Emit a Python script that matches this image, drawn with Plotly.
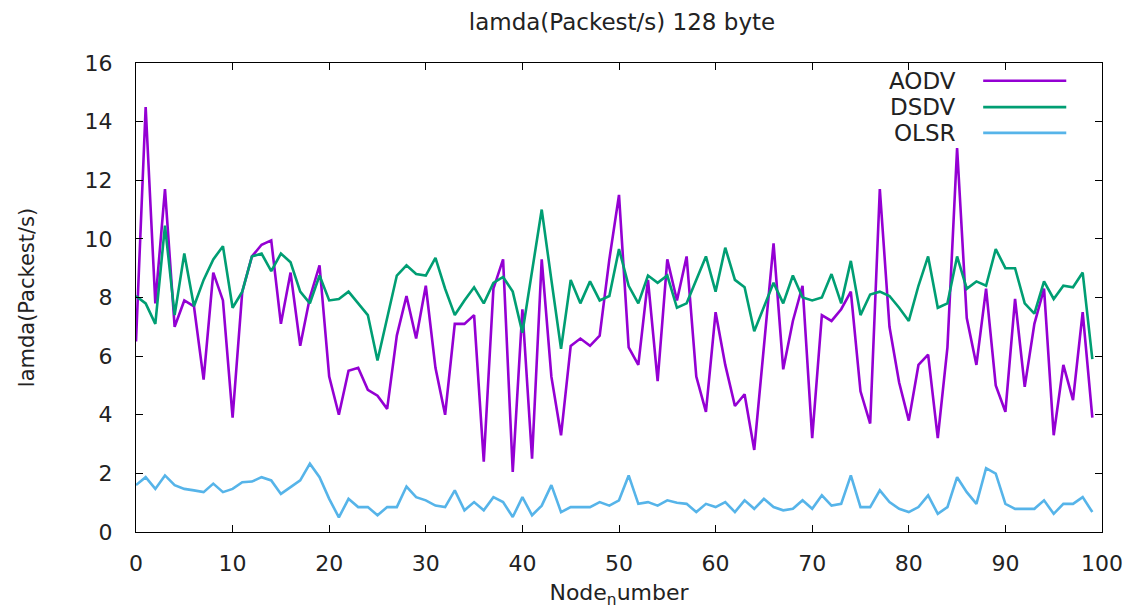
import plotly.graph_objects as go

nodes = list(range(100))

aodv = [6.5, 14.5, 7.8, 11.7, 7.0, 7.9, 7.7, 5.2, 8.85, 7.9,
        3.9, 8.2, 9.4, 9.8, 9.95, 7.1, 8.85, 6.35, 8.0, 9.1,
        5.3, 4.0, 5.5, 5.6, 4.85, 4.65, 4.2, 6.7, 8.05, 6.6,
        8.4, 5.6, 4.0, 7.1, 7.1, 7.4, 2.4, 8.3, 9.3, 2.05,
        7.6, 2.5, 9.3, 5.3, 3.3, 6.35, 6.6, 6.35, 6.7, 9.3,
        11.5, 6.3, 5.7, 8.6, 5.15, 9.3, 7.9, 9.4, 5.3, 4.1,
        7.5, 5.7, 4.3, 4.7, 2.8, 6.3, 9.85, 5.55, 7.2, 8.4,
        3.2, 7.4, 7.2, 7.6, 8.2, 4.8, 3.7, 11.7, 7.0, 5.1,
        3.8, 5.7, 6.05, 3.2, 6.3, 13.1, 7.3, 5.7, 8.3, 5.0,
        4.1, 7.95, 4.95, 7.1, 8.3, 3.3, 5.7, 4.5, 7.5, 3.9]

dsdv = [8.05, 7.8, 7.1, 10.45, 7.4, 9.5, 7.7, 8.6, 9.3, 9.75,
        7.65, 8.2, 9.4, 9.5, 8.9, 9.5, 9.2, 8.2, 7.8, 8.75,
        7.9, 7.95, 8.2, 7.8, 7.4, 5.85, 7.25, 8.75, 9.1, 8.8,
        8.75, 9.35, 8.3, 7.4, 7.9, 8.35, 7.8, 8.5, 8.7, 8.2,
        6.8, 8.9, 11.0, 8.6, 6.25, 8.6, 7.8, 8.55, 7.9, 8.05,
        9.65, 8.4, 7.8, 8.75, 8.5, 8.75, 7.65, 7.8, 8.6, 9.4,
        8.2, 9.7, 8.6, 8.35, 6.85, 7.65, 8.5, 7.8, 8.75, 8.0,
        7.9, 8.0, 8.8, 7.8, 9.25, 7.4, 8.1, 8.2, 8.05, 7.65,
        7.2, 8.4, 9.4, 7.65, 7.8, 9.4, 8.3, 8.55, 8.4, 9.65,
        9.0, 9.0, 7.8, 7.45, 8.55, 7.95, 8.4, 8.35, 8.85, 5.9]

olsr = [1.6, 1.87, 1.47, 1.93, 1.6, 1.47, 1.42, 1.36, 1.65, 1.36,
        1.47, 1.7, 1.72, 1.87, 1.76, 1.3, 1.53, 1.76, 2.33, 1.87,
        1.13, 0.5, 1.13, 0.85, 0.85, 0.57, 0.85, 0.85, 1.55, 1.19,
        1.08, 0.9, 0.85, 1.42, 0.74, 1.02, 0.74, 1.19, 1.02, 0.51,
        1.19, 0.57, 0.9, 1.6, 0.68, 0.85, 0.85, 0.85, 1.02, 0.9,
        1.08, 1.93, 0.96, 1.02, 0.9, 1.08, 1.0, 0.96, 0.68, 0.96,
        0.85, 1.02, 0.68, 1.08, 0.79, 1.13, 0.85, 0.74, 0.79, 1.08,
        0.79, 1.25, 0.9, 0.96, 1.93, 0.85, 0.85, 1.42, 1.02, 0.79,
        0.68, 0.85, 1.25, 0.62, 0.85, 1.87, 1.36, 0.96, 2.18, 1.99,
        0.96, 0.79, 0.79, 0.79, 1.08, 0.62, 0.96, 0.96, 1.19, 0.68]

series_names = ["AODV", "DSDV", "OLSR"]
series_colors = ["#9400D3", "#009E73", "#56B4E9"]
x_ticks = list(range(0, 101, 10))
y_ticks = list(range(0, 17, 2))

FONT = "DejaVu Sans, Liberation Sans, Arial, sans-serif"
TXT = "#222"

fig = go.Figure()
for name, vals, col in zip(series_names, [aodv, dsdv, olsr], series_colors):
    fig.add_trace(go.Scatter(x=nodes, y=vals, mode="lines", name=name,
                             line=dict(color=col, width=2.6),
                             showlegend=False))

# gnuplot-style key: text right-aligned, sample line to the right
key_rows = [0.962, 0.906, 0.851]
for name, col, yy in zip(series_names, series_colors, key_rows):
    fig.add_annotation(x=0.851, y=yy, xref="paper", yref="paper",
                       text=name, showarrow=False, xanchor="right",
                       yanchor="middle",
                       font=dict(family=FONT, size=23, color=TXT))
    fig.add_shape(type="line", xref="paper", yref="paper",
                  x0=0.877, x1=0.963, y0=yy, y1=yy,
                  line=dict(color=col, width=2.6))

axis_common = dict(showline=True, linecolor="black", linewidth=1.2,
                   mirror="allticks", ticks="inside", ticklen=7,
                   tickcolor="black", tickwidth=1.2, showgrid=False,
                   zeroline=False,
                   tickfont=dict(family=FONT, size=22, color=TXT))

fig.update_layout(
    width=1135, height=613,
    margin=dict(l=136, r=31, t=63, b=80),
    paper_bgcolor="white", plot_bgcolor="white",
    title=dict(text="lamda(Packest/s) 128 byte", x=0.548, xanchor="center",
               y=0.965, yanchor="middle",
               font=dict(family=FONT, size=23, color=TXT)),
    xaxis=dict(range=[0, 100], tickvals=x_ticks, ticklabelstandoff=11,
               title=dict(text="Node<sub>n</sub>umber", standoff=10,
                          font=dict(family=FONT, size=22, color=TXT)),
               **axis_common),
    yaxis=dict(range=[0, 16], tickvals=y_ticks, ticklabelstandoff=18,
               title=dict(text="lamda(Packest/s)", standoff=44,
                          font=dict(family=FONT, size=21, color=TXT)),
               **axis_common),
)

fig.write_html("out.html")
